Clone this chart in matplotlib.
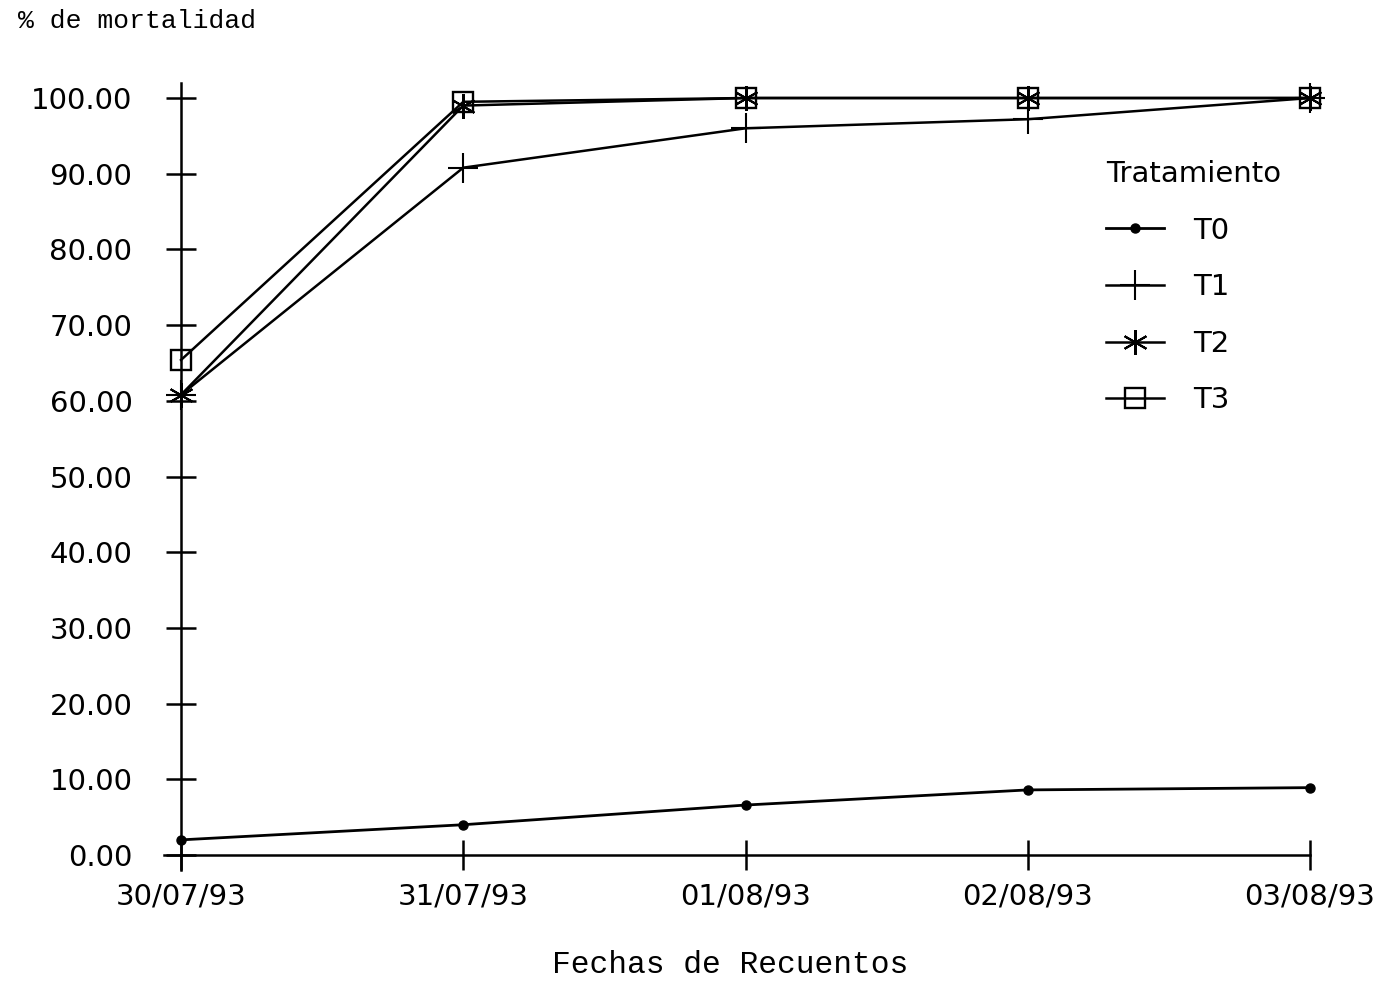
import matplotlib.pyplot as plt
import numpy as np

# Fechas de recuento y % de mortalidad por tratamiento
fechas = ["30/07/93", "31/07/93", "01/08/93", "02/08/93", "03/08/93"]
t0 = [2.0, 4.0, 6.6, 8.6, 8.9]
t1 = [60.8, 90.8, 96.0, 97.2, 100.0]
t2 = [60.8, 99.0, 100.0, 100.0, 100.0]
t3 = [65.4, 99.5, 100.0, 100.0, 100.0]
yticks = [0, 10, 20, 30, 40, 50, 60, 70, 80, 90, 100]

mono = "Liberation Mono"
sans = "DejaVu Sans"
fs = 21

fig = plt.figure(figsize=(13.99, 9.82), dpi=100)
ax = fig.add_axes([0.1173, 0.1139, 0.8191, 0.8017])

x = np.arange(len(fechas))
ax.plot(x, t0, color="black", lw=2.0, marker="o", ms=6.5, label="T0", clip_on=False)
ax.plot(x, t1, color="black", lw=1.8, marker="+", ms=22, mew=1.5, label="T1", clip_on=False)
ax.plot(x, t2, color="black", lw=1.8, marker=(6, 2, 0), ms=18, mew=1.5, label="T2",
        clip_on=False)
ax.plot(x, t3, color="black", lw=1.8, marker="s", ms=14.5, mew=1.7,
        mfc="none", label="T3", clip_on=False)

ax.set_xlim(-0.06, 4.0)
ax.set_ylim(-2, 102)
for s in ["top", "right"]:
    ax.spines[s].set_visible(False)
ax.spines["left"].set_position(("data", 0))
ax.spines["bottom"].set_position(("data", 0))
ax.spines["left"].set_linewidth(1.8)
ax.spines["bottom"].set_linewidth(1.8)

ax.set_xticks(x)
ax.set_xticklabels(fechas, fontsize=fs, family=sans)
ax.set_yticks(yticks)
ax.set_yticklabels([f"{v:.2f}" for v in yticks], fontsize=fs, family=sans)
ax.tick_params(axis="both", direction="inout", length=22, width=1.8)
ax.tick_params(axis="y", pad=24)
ax.tick_params(axis="x", pad=9)

fig.text(0.013, 0.979, "% de mortalidad", fontsize=19, family=mono, va="center")
fig.text(0.522, 0.017, "Fechas de Recuentos", fontsize=22.5, family=mono,
         ha="center", va="center")

leg = ax.legend(title="Tratamiento", loc="upper left",
                bbox_to_anchor=(1106 / 1399, 1 - 160 / 982),
                bbox_transform=fig.transFigure, borderpad=0, borderaxespad=0,
                frameon=False, handlelength=2.0, handletextpad=1.0,
                labelspacing=0.98, prop={"family": sans, "size": fs})
leg.get_title().set_fontsize(fs)
leg.get_title().set_family(sans)
leg._legend_box.align = "left"

fig.savefig("out.png", dpi=100)
